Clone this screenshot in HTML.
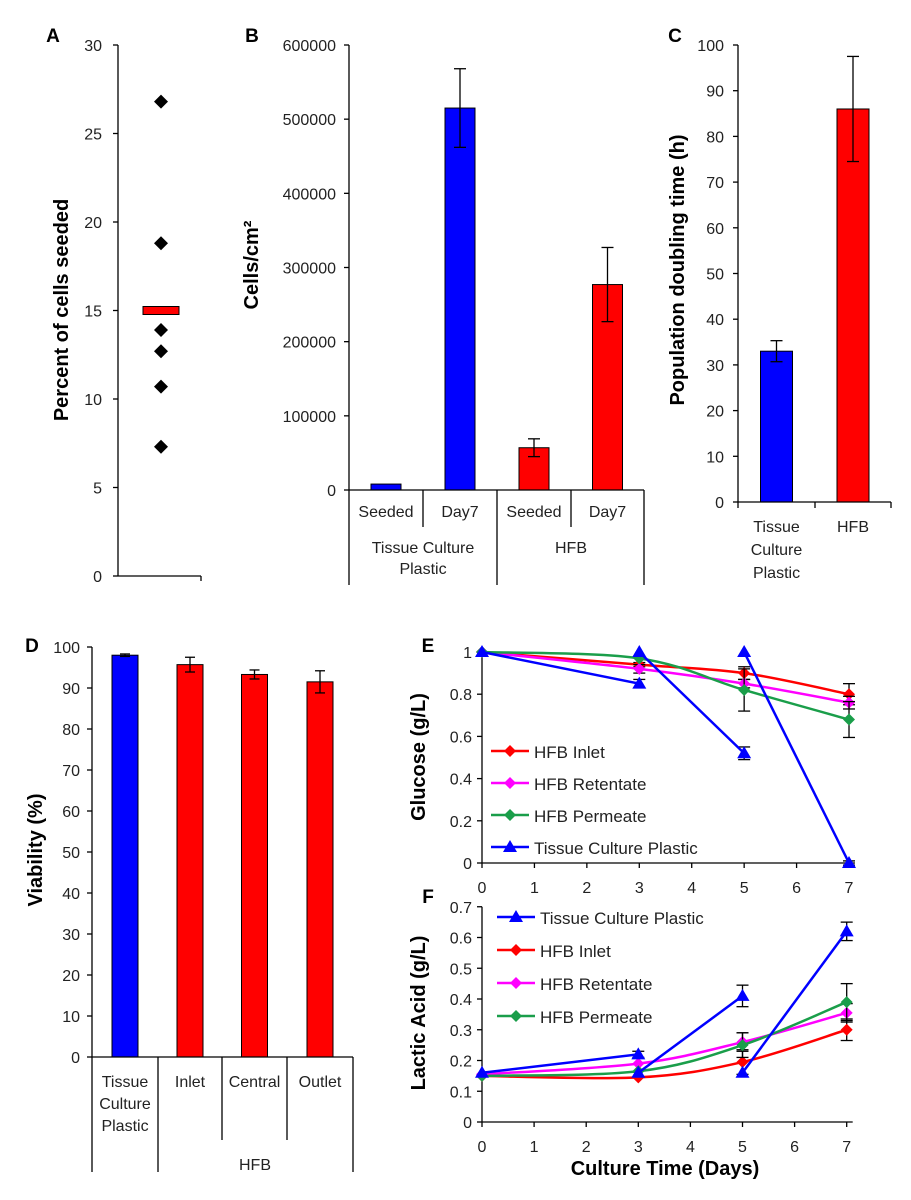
<!DOCTYPE html>
<html><head><meta charset="utf-8"><style>
body{margin:0;background:#fff;}
svg{display:block;font-family:"Liberation Sans",Arial,sans-serif;}
</style></head><body>
<svg id="fig" width="911" height="1200" viewBox="0 0 911 1200" xmlns="http://www.w3.org/2000/svg"></svg>
<script>
// ---- data ----
const aValues=[26.8,18.8,13.9,12.7,10.7,7.3];
const aMean=[15];
const aTicks=[0,5,10,15,20,25,30];
const bCats=['Seeded','Day7','Seeded','Day7'];
const bGroups=['Tissue Culture|Plastic','HFB'];
const bValues=[8000,515000,57000,277000];
const bErr=[0,53000,12000,50000];
const bTicks=[0,100000,200000,300000,400000,500000,600000];
const cCats=['Tissue|Culture|Plastic','HFB'];
const cValues=[33,86];
const cErr=[2.3,11.5];
const cTicks=[0,10,20,30,40,50,60,70,80,90,100];
const dCats=['Tissue|Culture|Plastic','Inlet','Central','Outlet'];
const dValues=[98,95.7,93.3,91.5];
const dErr=[0.3,1.8,1.1,2.7];
const dTicks=[0,10,20,30,40,50,60,70,80,90,100];
const days=[0,3,5,7];
const dayTicks=[0,1,2,3,4,5,6,7];
const gluInlet=[1,0.94,0.90,0.80];
const gluInletErr=[0,0.01,0.03,0.05];
const gluRet=[1,0.92,0.85,0.76];
const gluRetErr=[0,0.02,0.02,0.03];
const gluPerm=[1,0.97,0.82,0.68];
const gluPermErr=[0,0,0.1,0.085];
const tcpStartDays=[0,3,5];
const tcpEndDays=[3,5,7];
const tcpGluStart=[1,1,1];
const tcpGluEnd=[0.85,0.52,0];
const tcpGluErr=[0.02,0.03,0.01];
const gluTicks=[0,0.2,0.4,0.6,0.8,1];
const lacInlet=[0.15,0.145,0.195,0.30];
const lacInletErr=[0,0,0.04,0.035];
const lacRet=[0.155,0.19,0.26,0.355];
const lacRetErr=[0,0,0.03,0.03];
const lacPerm=[0.15,0.165,0.25,0.39];
const lacPermErr=[0,0,0.04,0.06];
const tcpLacStart=[0.16,0.16,0.16];
const tcpLacEnd=[0.22,0.41,0.62];
const tcpLacErr=[0.01,0.035,0.03];
const lacTicks=[0,0.1,0.2,0.3,0.4,0.5,0.6,0.7];

const svg=document.getElementById('fig');
const NS='http://www.w3.org/2000/svg';
function mk(tag,name,attrs,text){
  const el=document.createElementNS(NS,tag);
  
  
  for(const k in attrs) el.setAttribute(k,attrs[k]);
  if(text!==undefined) el.textContent=text;
  svg.appendChild(el);
  return el;
}
function line(name,x1,y1,x2,y2,c,w){return mk('line',name,{x1,y1,x2,y2,stroke:c||'#000','stroke-width':w||1.3});}
function txt(name,x,y,s,o){o=o||{};return mk('text',name,Object.assign({x,y,'font-size':o.size||16,fill:o.fill||'#222','text-anchor':o.anchor||'middle','font-weight':o.weight||'normal'},o.extra||{}),s);}
function multi(name,x,y,s,lh,o){s.split('|').forEach((p,i)=>txt(name,x,y+i*lh,p,o));}
function errbar(name,x,y1,y2,cap){line(name,x,y1,x,y2,'#000',1.3);line(name,x-cap,y1,x+cap,y1,'#000',1.3);line(name,x-cap,y2,x+cap,y2,'#000',1.3);}
function yAxis(name,x,ticks,yf,fmt,tx){line(name,x,yf(ticks[ticks.length-1]),x,yf(ticks[0]));ticks.forEach(t=>{line(name+'-tick',x-5,yf(t),x,yf(t));txt(name+'-label',tx,yf(t)+6,fmt(t),{anchor:'end'});});}
function ytitle(name,x,y,s){txt(name,x,y,s,{size:20,weight:'bold',fill:'#000',extra:{transform:`rotate(-90 ${x} ${y})`}});}
function panelLabel(s,x,y){txt('panel-label-'+s.toLowerCase(),x,y,s,{size:19,weight:'bold',fill:'#000'});}

// ---- Panel A ----
const yA=v=>576-v*531/30;
panelLabel('A',53,42);
yAxis('a-y-axis',118,aTicks,yA,t=>String(t),102);
line('a-x-axis',118,576,201,576);line('a-x-tick',201,576,201,581);
ytitle('a-y-axis-title',68,310,'Percent of cells seeded');
aValues.forEach(v=>mk('path','a-point',{d:`M161 ${yA(v)-7}L168 ${yA(v)}L161 ${yA(v)+7}L154 ${yA(v)}Z`,fill:'#000'}));
aMean.forEach(v=>mk('rect','a-mean-bar',{x:143,y:yA(v)-4,width:36,height:8,fill:'#f00',stroke:'#000','stroke-width':1}));

// ---- Panel B ----
const yB=v=>490-v*445/600000;
const bSlot=[349,423,497,571,644];
panelLabel('B',252,42);
yAxis('b-y-axis',349,bTicks,yB,t=>String(t),336);
ytitle('b-y-axis-title',258,265,'Cells/cm²');
bValues.forEach((v,i)=>{const cx=(bSlot[i]+bSlot[i+1])/2;mk('rect','b-bar-'+i,{x:cx-15,y:yB(v),width:30,height:490-yB(v),fill:i<2?'#00f':'#f00',stroke:'#000','stroke-width':1});if(bErr[i])errbar('b-error-bar',cx,yB(v+bErr[i]),yB(v-bErr[i]),6);});
line('b-x-axis',349,490,644,490);
[423,571].forEach(x=>line('b-cat-sep',x,490,x,527));
[349,497,644].forEach(x=>line('b-group-sep',x,490,x,585));
bCats.forEach((c,i)=>txt('b-cat-label',(bSlot[i]+bSlot[i+1])/2,517,c));
multi('b-group-label',423,553,bGroups[0],21);
txt('b-group-label',571,553,bGroups[1]);

// ---- Panel C ----
const yC=v=>502-v*4.57;
panelLabel('C',675,42);
yAxis('c-y-axis',738,cTicks,yC,t=>String(t),724);
ytitle('c-y-axis-title',684,270,'Population doubling time (h)');
const cSlot=[738,815,891];
cValues.forEach((v,i)=>{const cx=(cSlot[i]+cSlot[i+1])/2;mk('rect','c-bar-'+i,{x:cx-16,y:yC(v),width:32,height:502-yC(v),fill:i?'#f00':'#00f',stroke:'#000','stroke-width':1});errbar('c-error-bar',cx,yC(v+cErr[i]),yC(v-cErr[i]),6);});
line('c-x-axis',738,502,891,502);
cSlot.forEach(x=>line('c-x-tick',x,502,x,508));
cCats.forEach((c,i)=>multi('c-cat-label',(cSlot[i]+cSlot[i+1])/2,532,c,23));

// ---- Panel D ----
const yD=v=>1057-v*4.1;
panelLabel('D',32,652);
yAxis('d-y-axis',92,dTicks,yD,t=>String(t),80);
ytitle('d-y-axis-title',42,850,'Viability (%)');
const dSlot=[92,158,222,287,353];
dValues.forEach((v,i)=>{const cx=(dSlot[i]+dSlot[i+1])/2;mk('rect','d-bar-'+i,{x:cx-13,y:yD(v),width:26,height:1057-yD(v),fill:i?'#f00':'#00f',stroke:'#000','stroke-width':1});errbar('d-error-bar',cx,yD(v+dErr[i]),yD(v-dErr[i]),5);});
line('d-x-axis',92,1057,353,1057);
[222,287].forEach(x=>line('d-cat-sep',x,1057,x,1140));
[92,158,353].forEach(x=>line('d-group-sep',x,1057,x,1172));
dCats.forEach((c,i)=>multi('d-cat-label',(dSlot[i]+dSlot[i+1])/2,1087,c,22));
txt('d-group-label',255,1170,'HFB');

// ---- Panels E & F ----
function smooth(pts){let d=`M${pts[0][0]} ${pts[0][1]}`;for(let i=0;i<pts.length-1;i++){const p0=pts[i-1]||pts[i],p1=pts[i],p2=pts[i+1],p3=pts[i+2]||p2;d+=`C${p1[0]+(p2[0]-p0[0])/6} ${p1[1]+(p2[1]-p0[1])/6} ${p2[0]-(p3[0]-p1[0])/6} ${p2[1]-(p3[1]-p1[1])/6} ${p2[0]} ${p2[1]}`;}return d;}
function diamond(name,x,y,c){mk('path',name,{d:`M${x} ${y-6}L${x+6} ${y}L${x} ${y+6}L${x-6} ${y}Z`,fill:c});}
function tri(name,x,y,c){mk('path',name,{d:`M${x} ${y-7}L${x+7} ${y+5}L${x-7} ${y+5}Z`,fill:c});}
function hfbSeries(name,vals,errs,c,xf,yf){vals.forEach((v,i)=>{if(errs[i])errbar(name+'-error',xf(days[i]),yf(v+errs[i]),yf(v-errs[i]),6);});mk('path',name+'-line',{d:smooth(vals.map((v,i)=>[xf(days[i]),yf(v)])),fill:'none',stroke:c,'stroke-width':2.5});vals.forEach((v,i)=>diamond(name+'-marker',xf(days[i]),yf(v),c));}
function tcpSeries(name,st,en,errs,xf,yf){st.forEach((v,i)=>{const x1=xf(tcpStartDays[i]),x2=xf(tcpEndDays[i]);errbar(name+'-error',x2,yf(en[i]+errs[i]),yf(en[i]-errs[i]),6);line(name+'-line',x1,yf(v),x2,yf(en[i]),'#00f',2.5);tri(name+'-marker',x1,yf(v),'#00f');tri(name+'-marker',x2,yf(en[i]),'#00f');});}
function legend(name,x,y,c,label,shape){line(name,x,y,x+38,y,c,2.5);if(shape==='t')tri(name+'-marker',x+19,y,c);else diamond(name+'-marker',x+19,y,c);txt(name+'-text',x+43,y+7,label,{anchor:'start',size:17});}
function xAxis(name,xf,y0,ly){line(name,xf(0),y0,xf(7)+6,y0);dayTicks.forEach(t=>{line(name+'-tick',xf(t),y0,xf(t),y0+5);txt(name+'-label',xf(t),ly,String(t));});}

const xE=d=>482+d*52.43, yE=v=>863-v*211;
panelLabel('E',428,652);
yAxis('e-y-axis',482,gluTicks,yE,t=>String(+t.toFixed(1)),472);
ytitle('e-y-axis-title',425,757,'Glucose (g/L)');
xAxis('e-x-axis',xE,863,893);
hfbSeries('e-hfb-inlet',gluInlet,gluInletErr,'#f00',xE,yE);
hfbSeries('e-hfb-retentate',gluRet,gluRetErr,'#f0f',xE,yE);
hfbSeries('e-hfb-permeate',gluPerm,gluPermErr,'#1a9e4a',xE,yE);
tcpSeries('e-tcp',tcpGluStart,tcpGluEnd,tcpGluErr,xE,yE);
legend('e-legend-inlet',491,751,'#f00','HFB Inlet');
legend('e-legend-retentate',491,783,'#f0f','HFB Retentate');
legend('e-legend-permeate',491,815,'#1a9e4a','HFB Permeate');
legend('e-legend-tcp',491,847,'#00f','Tissue Culture Plastic','t');

const xF=d=>482+d*52.1, yF=v=>1122-v*307.5;
panelLabel('F',428,903);
yAxis('f-y-axis',482,lacTicks,yF,t=>String(+t.toFixed(1)),472);
ytitle('f-y-axis-title',425,1013,'Lactic Acid (g/L)');
xAxis('f-x-axis',xF,1122,1152);
hfbSeries('f-hfb-inlet',lacInlet,lacInletErr,'#f00',xF,yF);
hfbSeries('f-hfb-retentate',lacRet,lacRetErr,'#f0f',xF,yF);
hfbSeries('f-hfb-permeate',lacPerm,lacPermErr,'#1a9e4a',xF,yF);
tcpSeries('f-tcp',tcpLacStart,tcpLacEnd,tcpLacErr,xF,yF);
legend('f-legend-tcp',497,917,'#00f','Tissue Culture Plastic','t');
legend('f-legend-inlet',497,950,'#f00','HFB Inlet');
legend('f-legend-retentate',497,983,'#f0f','HFB Retentate');
legend('f-legend-permeate',497,1016,'#1a9e4a','HFB Permeate');
txt('x-axis-title',665,1175,'Culture Time (Days)',{size:20,weight:'bold',fill:'#000'});
</script>
</body></html>
